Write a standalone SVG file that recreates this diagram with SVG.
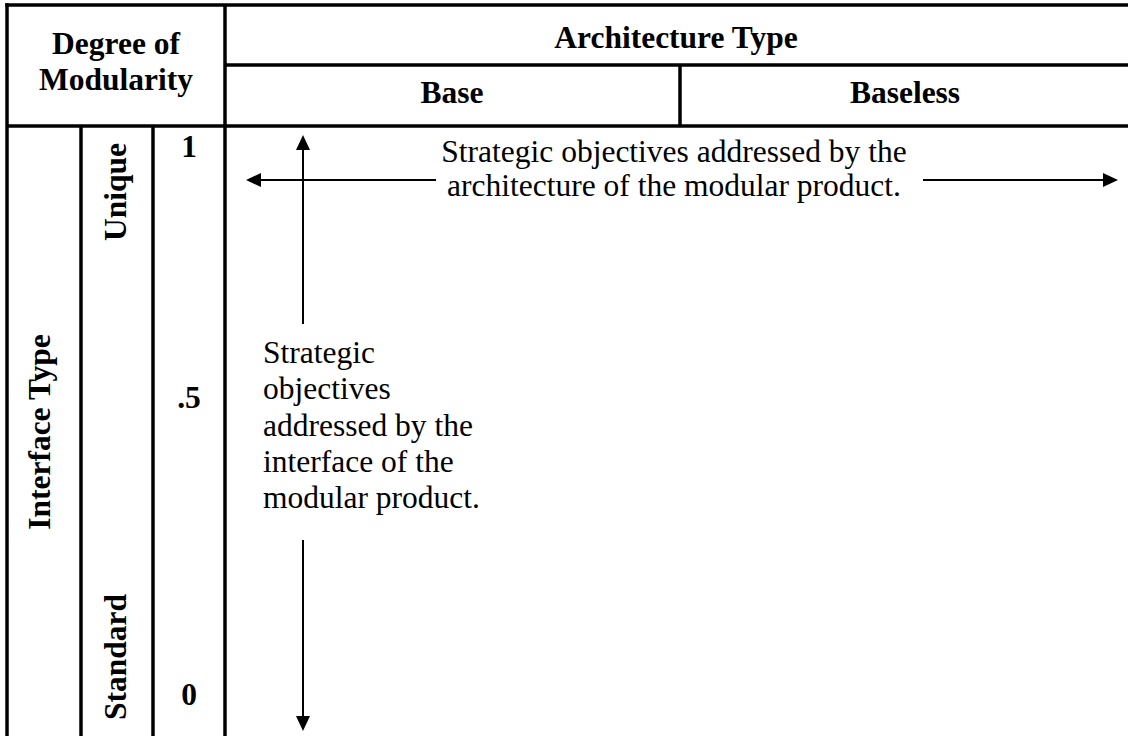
<svg xmlns="http://www.w3.org/2000/svg" width="1128" height="736" viewBox="0 0 1128 736">
<style>
  .grid { stroke: #000; stroke-width: 3.5; fill: none; }
  .hdr { font-family: "Liberation Serif", "Times New Roman", serif; font-weight: bold; font-size: 31.5px; fill: #000; }
  .body { font-family: "Liberation Serif", "Times New Roman", serif; font-size: 31.5px; fill: #000; }
  .conn { stroke: #000; stroke-width: 2; fill: none; }
</style>
<defs>
  <marker id="arrow" markerUnits="userSpaceOnUse" markerWidth="16" markerHeight="16" viewBox="0 0 16 16" refX="1" refY="7" orient="auto">
    <path d="M0,0 L15,7 L0,14 z" fill="#000"/>
  </marker>
</defs>
<rect width="1128" height="736" fill="#fff"/>
<g id="grid" class="grid">
  <line x1="5.25" y1="5" x2="1128" y2="5"/>
  <line x1="7" y1="3.25" x2="7" y2="736"/>
  <line x1="225" y1="5" x2="225" y2="736"/>
  <line x1="225" y1="65" x2="1128" y2="65"/>
  <line x1="680" y1="65" x2="680" y2="126"/>
  <line x1="7" y1="126" x2="1128" y2="126"/>
  <line x1="81" y1="126" x2="81" y2="736"/>
  <line x1="153" y1="126" x2="153" y2="736"/>
</g>
<g id="degree-of-modularity">
  <text class="hdr" x="116" y="54" text-anchor="middle">Degree of</text>
  <text class="hdr" x="116" y="90" text-anchor="middle">Modularity</text>
</g>
<g id="architecture-type">
  <text class="hdr" x="676" y="48" text-anchor="middle">Architecture Type</text>
</g>
<g id="base">
  <text class="hdr" x="452" y="103" text-anchor="middle">Base</text>
</g>
<g id="baseless">
  <text class="hdr" x="905" y="103" text-anchor="middle">Baseless</text>
</g>
<g id="interface-type">
  <text class="hdr" transform="translate(50,432) rotate(-90)" text-anchor="middle">Interface Type</text>
</g>
<g id="unique">
  <text class="hdr" transform="translate(126,192) rotate(-90)" text-anchor="middle">Unique</text>
</g>
<g id="standard">
  <text class="hdr" transform="translate(126,657) rotate(-90)" text-anchor="middle">Standard</text>
</g>
<g id="scale-1">
  <text class="hdr" x="189" y="157" text-anchor="middle">1</text>
</g>
<g id="scale-half">
  <text class="hdr" x="189" y="408" text-anchor="middle">.5</text>
</g>
<g id="scale-0">
  <text class="hdr" x="189" y="705" text-anchor="middle">0</text>
</g>
<g id="architecture-objectives">
  <text class="body" x="674" y="162" text-anchor="middle">Strategic objectives addressed by the</text>
  <text class="body" x="674" y="196" text-anchor="middle">architecture of the modular product.</text>
</g>
<g id="interface-objectives">
  <text class="body" x="263" y="363">Strategic</text>
  <text class="body" x="263" y="399">objectives</text>
  <text class="body" x="263" y="436">addressed by the</text>
  <text class="body" x="263" y="472">interface of the</text>
  <text class="body" x="263" y="508">modular product.</text>
</g>
<g id="connectors" class="conn">
  <line x1="436" y1="180" x2="260" y2="180" marker-end="url(#arrow)"/>
  <line x1="923" y1="180" x2="1104" y2="180" marker-end="url(#arrow)"/>
  <line x1="303" y1="324" x2="303" y2="149" marker-end="url(#arrow)"/>
  <line x1="303" y1="540" x2="303" y2="717" marker-end="url(#arrow)"/>
</g>
</svg>
